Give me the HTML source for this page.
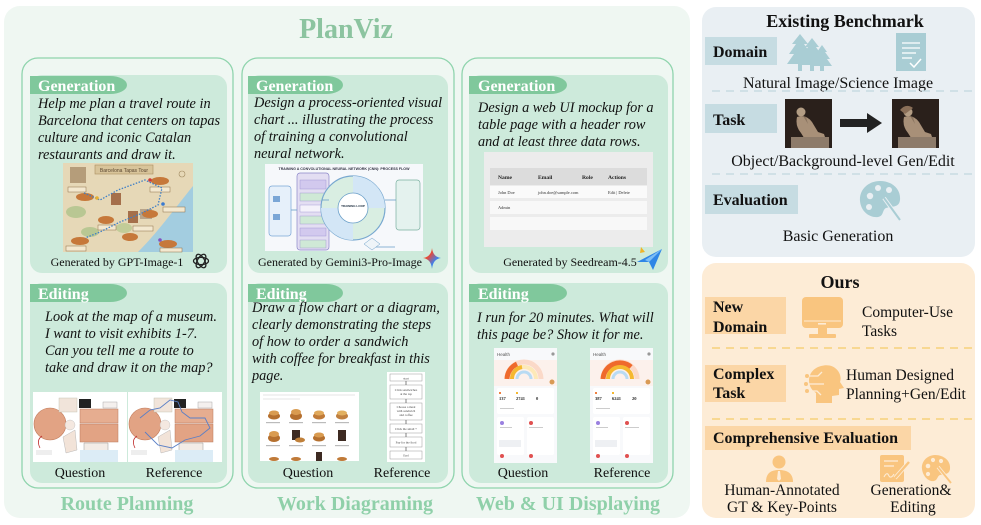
<!DOCTYPE html>
<html><head><meta charset="utf-8">
<style>
html,body{margin:0;padding:0;background:#fff;width:981px;height:525px;overflow:hidden}
svg{display:block}
text{font-family:"Liberation Serif",serif}
.it{font-style:italic;font-size:14.3px;fill:#111}
.pill{font-weight:bold;font-size:16px;fill:#fff}
.cap{font-size:12px;fill:#111}
.qr{font-size:14px;fill:#111}
.sec{font-weight:bold;font-size:20px;fill:#8fd0a9}
.lab{font-weight:bold;font-size:16px;fill:#111}
.reg{font-size:16px;fill:#111}
.reg2{font-size:15.5px;fill:#111}
.tiny{font-family:"Liberation Sans",sans-serif}
</style></head><body>
<svg width="981" height="525" viewBox="0 0 981 525" xmlns="http://www.w3.org/2000/svg">
<defs>
<linearGradient id="gem" x1="0" y1="0" x2="1" y2="1">
<stop offset="0" stop-color="#f2b233"/><stop offset="0.35" stop-color="#e5493a"/><stop offset="0.65" stop-color="#3b82f0"/><stop offset="1" stop-color="#34a853"/>
</linearGradient>
</defs>

<!-- main panel -->
<rect x="4" y="6" width="686" height="512" rx="16" fill="#eff7f2"/>
<text x="346" y="38" text-anchor="middle" font-weight="bold" font-size="28" fill="#8cc4a0">PlanViz</text>

<!-- column outer cards -->
<rect x="22" y="58" width="211" height="430" rx="16" fill="none" stroke="#8fd4ad" stroke-width="1.3"/>
<rect x="242" y="58" width="212" height="430" rx="16" fill="none" stroke="#8fd4ad" stroke-width="1.3"/>
<rect x="462" y="58" width="211" height="430" rx="16" fill="none" stroke="#8fd4ad" stroke-width="1.3"/>

<!-- inner cards -->
<rect x="30" y="75" width="197" height="198" rx="12" fill="#cdeadb"/>
<rect x="30" y="283" width="197" height="200" rx="12" fill="#cdeadb"/>
<rect x="248" y="75" width="200" height="198" rx="12" fill="#cdeadb"/>
<rect x="248" y="283" width="200" height="200" rx="12" fill="#cdeadb"/>
<rect x="469" y="75" width="199" height="198" rx="12" fill="#cdeadb"/>
<rect x="469" y="283" width="199" height="200" rx="12" fill="#cdeadb"/>

<!-- pills -->
<g fill="#80c89c">
<path d="M30 76 H110 A17 9 0 0 1 110 94 H30 Z"/>
<path d="M30 284 H110 A17 9 0 0 1 110 302 H30 Z"/>
<path d="M248 76 H326 A17 9 0 0 1 326 94 H248 Z"/>
<path d="M248 284 H326 A17 9 0 0 1 326 302 H248 Z"/>
<path d="M469 76 H550 A17 9 0 0 1 550 94 H469 Z"/>
<path d="M469 284 H550 A17 9 0 0 1 550 302 H469 Z"/>
</g>
<text class="pill" x="38" y="91">Generation</text>
<text class="pill" x="38" y="299">Editing</text>
<text class="pill" x="256" y="91">Generation</text>
<text class="pill" x="256" y="299">Editing</text>
<text class="pill" x="478" y="91">Generation</text>
<text class="pill" x="478" y="299">Editing</text>

<!-- COLUMN 1 text -->
<text class="it" x="38" y="108">Help me plan a travel route in</text>
<text class="it" x="38" y="125">Barcelona that centers on tapas</text>
<text class="it" x="38" y="142">culture and iconic Catalan</text>
<text class="it" x="38" y="159">restaurants and draw it.</text>

<!-- map image -->
<g>
<rect x="63" y="163" width="130" height="89" fill="#e6d8b7"/>
<path d="M138 252 C158 232 172 212 193 186 L193 252 Z" fill="#a3cde0"/>
<ellipse cx="76" cy="212" rx="10" ry="6" fill="#b9c793"/>
<ellipse cx="90" cy="232" rx="9" ry="5" fill="#b9c793"/>
<ellipse cx="124" cy="228" rx="8" ry="5" fill="#c2cc98"/>
<rect x="70" y="167" width="16" height="16" fill="#b59d7a"/>
<rect x="111" y="193" width="10" height="12" fill="#a56f4b"/>
<rect x="128" y="211" width="10" height="12" fill="#a56f4b"/>
<rect x="140" y="209" width="12" height="10" fill="#b8a48a"/>
<rect x="95" y="165" width="58" height="9" fill="#d8c49a" stroke="#a98e62" stroke-width="0.6"/>
<text class="tiny" x="124" y="172" text-anchor="middle" font-size="5" fill="#5a4630">Barcelona Tapas Tour</text>
<g fill="#c6783a">
<ellipse cx="85" cy="197" rx="9" ry="4"/><ellipse cx="160" cy="181" rx="9" ry="4"/>
<ellipse cx="106" cy="220" rx="8" ry="4"/><ellipse cx="150" cy="214" rx="8" ry="4"/>
<ellipse cx="130" cy="237" rx="8" ry="4"/><ellipse cx="80" cy="241" rx="9" ry="4"/>
<ellipse cx="168" cy="244" rx="9" ry="4"/>
</g>
<g fill="#f3e8cf" stroke="#8c6e48" stroke-width="0.5">
<rect x="68" y="187" width="18" height="5"/><rect x="150" y="187" width="20" height="5"/>
<rect x="98" y="225" width="18" height="5"/><rect x="133" y="226" width="20" height="5"/>
<rect x="66" y="246" width="20" height="5"/><rect x="160" y="248" width="22" height="4"/>
<rect x="163" y="207" width="22" height="5"/>
</g>
<polyline points="84,193 100,200 118,190 145,180 162,188 158,205 140,214 120,222 100,232 85,238" fill="none" stroke="#3f7fc6" stroke-width="1.3" stroke-dasharray="1.5 1.5"/>
<circle cx="182" cy="174" r="3" fill="none" stroke="#a08a60" stroke-width="0.6"/>
<circle cx="97" cy="198" r="1.8" fill="#e8b030"/><circle cx="150" cy="180" r="1.8" fill="#d03a3a"/>
<circle cx="163" cy="204" r="1.8" fill="#3a7ad0"/><circle cx="160" cy="240" r="1.8" fill="#8050c0"/>
</g>
<text class="cap" x="117" y="266" text-anchor="middle">Generated by GPT-Image-1</text>
<g fill="none" stroke="#222" stroke-width="1.3">
<ellipse cx="201" cy="261" rx="7.5" ry="3.6"/>
<ellipse cx="201" cy="261" rx="7.5" ry="3.6" transform="rotate(60 201 261)"/>
<ellipse cx="201" cy="261" rx="7.5" ry="3.6" transform="rotate(120 201 261)"/>
</g>

<text class="it" x="45" y="321">Look at the map of a museum.</text>
<text class="it" x="45" y="338">I want to visit exhibits 1-7.</text>
<text class="it" x="45" y="355">Can you tell me a route to</text>
<text class="it" x="45" y="372">take and draw it on the map?</text>

<!-- museum maps -->
<g id="mus">
<rect x="33" y="392" width="94" height="70" fill="#fff"/>
<circle cx="50" cy="424" r="16" fill="#e2a384" stroke="#c07a5a" stroke-width="0.6"/>
<rect x="59" y="398" width="18" height="14" fill="#f1e4da" stroke="#bba" stroke-width="0.4"/>
<rect x="79" y="399" width="12" height="9" fill="#222"/>
<rect x="80" y="409" width="38" height="14" fill="#e6ad90" stroke="#b97a5e" stroke-width="0.5"/>
<rect x="80" y="424" width="38" height="18" fill="#e2a384" stroke="#b97a5e" stroke-width="0.5"/>
<rect x="103" y="402" width="14" height="6" fill="#f4f0ee" stroke="#999" stroke-width="0.4"/>
<path d="M84 443 H108 V452 L96 458 L84 452 Z" fill="#f3ece6" stroke="#999" stroke-width="0.5"/>
<path d="M63 437 L75 430 L77 450 L66 453 Z" fill="#f2e3d8" stroke="#aaa" stroke-width="0.4"/>
<circle cx="70" cy="425" r="5" fill="#f4e8e0" stroke="#bbb" stroke-width="0.4"/>
<rect x="80" y="450" width="38" height="12" fill="#dcecf6"/>
<path d="M40 448 Q36 440 42 436" fill="none" stroke="#c03030" stroke-width="0.8"/>
<rect x="36" y="450" width="16" height="5" fill="#eee"/>
</g>
<use href="#mus" transform="translate(95 0)"/>
<polyline points="140,418 150,410 160,408 170,400 178,402 182,412 190,418 205,418 210,428 200,436 185,440 172,448 158,445 145,432" fill="none" stroke="#5a7fc6" stroke-width="0.9"/>
<text class="qr" x="80" y="477" text-anchor="middle">Question</text>
<text class="qr" x="174" y="477" text-anchor="middle">Reference</text>
<text class="sec" x="127" y="510" text-anchor="middle">Route Planning</text>

<!-- COLUMN 2 -->
<text class="it" x="254" y="107">Design a process-oriented visual</text>
<text class="it" x="254" y="124">chart ... illustrating the process</text>
<text class="it" x="254" y="141">of training a convolutional</text>
<text class="it" x="254" y="158">neural network.</text>
<g>
<rect x="265" y="164" width="158" height="87" fill="#f6f8fb"/>
<text class="tiny" x="344" y="170" text-anchor="middle" font-size="3.6" font-weight="bold" fill="#334">TRAINING A CONVOLUTIONAL NEURAL NETWORK (CNN): PROCESS FLOW</text>
<rect x="269" y="186" width="22" height="50" rx="3" fill="#e6f0fa" stroke="#7aa6d6" stroke-width="0.7"/>
<rect x="273" y="196" width="7" height="6" fill="#7aa6d6"/><rect x="273" y="214" width="7" height="6" fill="#7aa6d6"/>
<rect x="297" y="173" width="32" height="77" rx="3" fill="#e3def2" stroke="#8a86c8" stroke-width="0.7"/>
<g stroke="#9a90d0" stroke-width="0.4">
<rect x="300" y="180" width="26" height="9" fill="#d2c9ee"/><rect x="300" y="193" width="26" height="8" fill="#cfe9d6"/>
<rect x="300" y="205" width="26" height="7" fill="#f4f2fa"/><rect x="300" y="216" width="26" height="8" fill="#cfe9d6"/>
<rect x="300" y="228" width="26" height="8" fill="#d2c9ee"/><rect x="300" y="240" width="26" height="8" fill="#cfe9d6"/>
</g>
<circle cx="353" cy="208" r="32" fill="#d9eee2" stroke="#78a8d0" stroke-width="1.2"/>
<path d="M353 176 A32 32 0 0 1 385 208 L368 208 A15 15 0 0 0 353 193 Z" fill="#d3e6f6"/>
<path d="M353 240 A32 32 0 0 1 321 208 L338 208 A15 15 0 0 0 353 223 Z" fill="#d3e6f6"/>
<circle cx="353" cy="208" r="15" fill="#fff" stroke="#6a9fc8" stroke-width="0.8"/>
<text class="tiny" x="353" y="207" text-anchor="middle" font-size="3" font-weight="bold" fill="#234">TRAINING LOOP</text>
<rect x="396" y="180" width="24" height="50" rx="3" fill="#e4f2ee" stroke="#7ab0a0" stroke-width="0.7"/>
<g stroke="#6a9fc8" stroke-width="0.8" fill="none">
<line x1="291" y1="210" x2="297" y2="210"/><line x1="329" y1="200" x2="322" y2="200"/>
<line x1="385" y1="200" x2="396" y2="200"/><polyline points="370,240 372,247 395,247"/>
</g>
<path d="M372 238 L380 244 L372 250 L364 244 Z" fill="#eef4f8" stroke="#6a9fc8" stroke-width="0.5"/>
</g>
<text class="cap" x="340" y="266" text-anchor="middle">Generated by Gemini3-Pro-Image</text>
<path d="M432 248 Q433 257 441 258 Q433 259 432 269 Q431 259 423 258 Q431 257 432 248 Z" fill="url(#gem)"/>

<text class="it" x="252" y="312">Draw a flow chart or a diagram,</text>
<text class="it" x="252" y="329">clearly demonstrating the steps</text>
<text class="it" x="252" y="346">of how to order a sandwich</text>
<text class="it" x="252" y="363">with coffee for breakfast in this</text>
<text class="it" x="252" y="380">page.</text>
<!-- food grid -->
<g>
<rect x="260" y="392" width="99" height="69" fill="#fff"/>
<g stroke="#ccc" stroke-width="0.6"><line x1="263" y1="395" x2="355" y2="395"/><line x1="263" y1="399" x2="300" y2="399"/></g>
<g>
<ellipse cx="274" cy="416" rx="6" ry="3.5" fill="#b5702f"/><ellipse cx="274" cy="413" rx="5" ry="2.5" fill="#d99b50"/>
<ellipse cx="296" cy="416" rx="6" ry="4" fill="#b5702f"/><ellipse cx="296" cy="412" rx="5" ry="3" fill="#d99b50"/>
<ellipse cx="319" cy="416" rx="6" ry="3.5" fill="#c07a38"/><ellipse cx="319" cy="413" rx="5" ry="2.5" fill="#e0a85a"/>
<ellipse cx="342" cy="416" rx="6" ry="3.5" fill="#c08040"/><ellipse cx="342" cy="413" rx="5" ry="2.5" fill="#e2b060"/>
<ellipse cx="274" cy="438" rx="6" ry="4" fill="#b5702f"/><ellipse cx="274" cy="434" rx="5" ry="3" fill="#d99b50"/>
<rect x="292" y="430" width="8" height="10" fill="#3d2a22"/><ellipse cx="300" cy="440" rx="5" ry="2.5" fill="#c0803a"/>
<ellipse cx="319" cy="438" rx="6" ry="3.5" fill="#b5702f"/><ellipse cx="319" cy="435" rx="5" ry="2.5" fill="#d99b50"/>
<rect x="338" y="430" width="8" height="11" fill="#3d2a22"/>
<ellipse cx="274" cy="459" rx="5" ry="2" fill="#c07a38"/><ellipse cx="296" cy="459" rx="5" ry="2" fill="#c07a38"/>
<rect x="316" y="452" width="6" height="9" fill="#3d2a22"/><ellipse cx="342" cy="459" rx="5" ry="2" fill="#c07a38"/>
</g>
<g fill="#bbb"><rect x="266" y="422" width="14" height="1.2"/><rect x="289" y="422" width="14" height="1.2"/><rect x="312" y="422" width="14" height="1.2"/><rect x="335" y="422" width="14" height="1.2"/>
<rect x="266" y="445" width="14" height="1.2"/><rect x="289" y="445" width="14" height="1.2"/><rect x="312" y="445" width="14" height="1.2"/><rect x="335" y="445" width="14" height="1.2"/></g>
</g>
<!-- flowchart -->
<g>
<rect x="387" y="372" width="38" height="90" fill="#fff"/>
<g fill="#fff" stroke="#9a9a9a" stroke-width="0.5">
<rect x="390" y="374" width="32" height="7"/><rect x="390" y="385" width="32" height="14"/>
<rect x="390" y="403" width="32" height="17"/><rect x="390" y="424" width="32" height="9"/>
<rect x="390" y="437" width="32" height="10"/><rect x="390" y="451" width="32" height="8"/>
</g>
<g stroke="#333" stroke-width="0.6"><line x1="406" y1="381" x2="406" y2="385"/><line x1="406" y1="399" x2="406" y2="403"/><line x1="406" y1="420" x2="406" y2="424"/><line x1="406" y1="433" x2="406" y2="437"/><line x1="406" y1="447" x2="406" y2="451"/></g>
<g class="tiny" font-size="3.2" fill="#444" text-anchor="middle">
<text x="406" y="379.5">start</text>
<text x="406" y="391">Click sandwiches</text><text x="406" y="395">at the top</text>
<text x="406" y="408">Choose a meal</text><text x="406" y="412">with sandwich</text><text x="406" y="416">and coffee</text>
<text x="406" y="430">Click the small +</text>
<text x="406" y="443.5">Pay for the food</text>
<text x="406" y="456.5">End</text>
</g>
</g>
<text class="qr" x="308" y="477" text-anchor="middle">Question</text>
<text class="qr" x="402" y="477" text-anchor="middle">Reference</text>
<text class="sec" x="355" y="510" text-anchor="middle">Work Diagraming</text>

<!-- COLUMN 3 -->
<text class="it" x="478" y="112">Design a web UI mockup for a</text>
<text class="it" x="478" y="129">table page with a header row</text>
<text class="it" x="478" y="146">and at least three data rows.</text>
<g>
<rect x="484" y="152" width="169" height="95" fill="#ececec"/>
<rect x="490" y="168" width="157" height="17" fill="#dcdcdc"/>
<rect x="490" y="186" width="157" height="12" fill="#fafafa"/>
<rect x="490" y="201" width="157" height="13" fill="#f8f8f8"/>
<rect x="490" y="217" width="157" height="13" fill="#f8f8f8"/>
<g class="tiny" font-size="5.6" font-weight="bold" fill="#222">
<text x="498" y="179">Name</text><text x="538" y="179">Email</text><text x="582" y="179">Role</text><text x="608" y="179">Actions</text>
</g>
<g class="tiny" font-size="4.4" fill="#333">
<text x="498" y="194">John Doe</text><text x="538" y="194">john.doe@sample.com</text><text x="608" y="194">Edit | Delete</text>
<text x="498" y="209">Admin</text>
</g>
</g>
<text class="cap" x="570" y="266" text-anchor="middle">Generated by Seedream-4.5</text>
<g>
<path d="M637 262 L662 249 L653 270 L649 262 Z" fill="#2f86e6"/>
<path d="M649 262 L662 249 L645 260 Z" fill="#7dbef5"/>
<path d="M641 247 L645 252 L640 253 Z" fill="#f0b428"/>
</g>

<text class="it" x="477" y="322">I run for 20 minutes. What will</text>
<text class="it" x="477" y="339">this page be? Show it for me.</text>
<!-- health screens -->
<g id="hq">
<rect x="494" y="348" width="63" height="115" fill="#f8f9fb"/>
<rect x="494" y="360" width="63" height="26" fill="#fcf1ec"/>
<text class="tiny" x="497" y="356" font-size="4.5" fill="#555">Health</text>
<circle cx="553" cy="354" r="1.6" fill="#999"/>
<rect x="497" y="388" width="57" height="26" rx="2" fill="#fff"/>
<rect x="497" y="417" width="27" height="38" rx="2" fill="#fff"/>
<rect x="527" y="417" width="27" height="38" rx="2" fill="#fff"/>
<rect x="499" y="440" width="22" height="7" fill="#eef0f3"/>
<circle cx="502" cy="423" r="2" fill="#9a80e0"/><circle cx="531" cy="423" r="2" fill="#e05050"/>
<circle cx="502" cy="456" r="2" fill="#e05050"/><circle cx="531" cy="456" r="2" fill="#e05050"/>
<circle cx="552" cy="382" r="2.5" fill="#d99a55"/>
<g fill="#ccc"><rect x="500" y="423" width="0" height="0"/><rect x="500" y="427" width="12" height="1"/><rect x="529" y="427" width="14" height="1"/><rect x="500" y="408" width="14" height="1"/></g>
</g>
<use href="#hq" transform="translate(96 0)"/>
<!-- arcs question -->
<g fill="none">
<path d="M507 379 A17 17 0 0 1 541 379" stroke="#fbd9c8" stroke-width="5"/>
<path d="M507 379 A17 17 0 0 1 517 364" stroke="#ef6a2c" stroke-width="5"/>
<path d="M512 379 A12 12 0 0 1 536 379" stroke="#fde9b8" stroke-width="4"/>
<path d="M512 379 A12 12 0 0 1 522 367" stroke="#f5b830" stroke-width="4"/>
<path d="M517 379 A7 7 0 0 1 531 379" stroke="#b9dbf3" stroke-width="3"/>
</g>
<g fill="none">
<path d="M603 379 A17 17 0 0 1 637 379" stroke="#fbd9c8" stroke-width="5"/>
<path d="M603 379 A17 17 0 0 1 631 367" stroke="#ef6a2c" stroke-width="5"/>
<path d="M608 379 A12 12 0 0 1 632 379" stroke="#f5b830" stroke-width="4"/>
<path d="M613 379 A7 7 0 0 1 627 379" stroke="#b9dbf3" stroke-width="3"/>
</g>
<g class="tiny" font-size="4.5" font-weight="bold" fill="#222">
<text x="499" y="400">137</text><text x="516" y="400">2741</text><text x="536" y="400">0</text>
<text x="595" y="400">387</text><text x="612" y="400">6241</text><text x="632" y="400">20</text>
</g>
<g fill="#f08040"><rect x="499" y="392" width="2" height="2"/><rect x="595" y="392" width="2" height="2"/></g>
<g fill="#f5b830"><rect x="516" y="392" width="2" height="2"/><rect x="612" y="392" width="2" height="2"/></g>
<text class="qr" x="523" y="477" text-anchor="middle">Question</text>
<text class="qr" x="622" y="477" text-anchor="middle">Reference</text>
<text class="sec" x="568" y="510" text-anchor="middle">Web &amp; UI Displaying</text>

<!-- ===== EXISTING BENCHMARK ===== -->
<rect x="702" y="7" width="273" height="250" rx="14" fill="#e9eff3"/>
<text x="845" y="27" text-anchor="middle" font-weight="bold" font-size="18" fill="#111">Existing Benchmark</text>
<rect x="705" y="37" width="72" height="28" fill="#c6dce2"/>
<text class="lab" x="713" y="57">Domain</text>
<g fill="#a9cdd4">
<polygon points="800,34 792,44 796,44 789,54 794,54 787,64 813,64 806,54 811,54 804,44 808,44"/>
<rect x="798" y="64" width="4" height="7"/>
<polygon points="812,38 805,47 808,47 802,56 806,56 800,65 824,65 818,56 822,56 816,47 819,47"/>
<rect x="810" y="65" width="4" height="6"/>
<polygon points="822,45 817,52 819,52 814,59 817,59 812,66 832,66 827,59 830,59 825,52 827,52"/>
<rect x="820" y="66" width="4" height="5"/>
<rect x="896" y="33" width="30" height="38"/>
</g>
<g stroke="#fff" stroke-width="1.3"><line x1="902" y1="43" x2="920" y2="43"/><line x1="902" y1="48" x2="920" y2="48"/><line x1="902" y1="53" x2="916" y2="53"/><line x1="902" y1="58" x2="912" y2="58"/></g>
<polyline points="910,63 914,67 921,59" fill="none" stroke="#fff" stroke-width="1.5"/>
<text class="reg" x="838" y="88" text-anchor="middle">Natural Image/Science Image</text>
<line x1="712" y1="91" x2="972" y2="91" stroke="#c8dce2" stroke-width="1.5" stroke-dasharray="8 6"/>

<rect x="705" y="104" width="72" height="29" fill="#c6dce2"/>
<text class="lab" x="713" y="125">Task</text>
<g id="thinker">
<rect x="785" y="99" width="47" height="49" fill="#2a201b"/>
<circle cx="801" cy="112" r="4.5" fill="#b39d84"/>
<path d="M797 117 Q806 114 812 122 L818 132 L824 134 L826 140 L806 141 L801 133 Q795 126 797 117 Z" fill="#a89078"/>
<path d="M803 116 L808 124 L806 117 Z" fill="#8a7560"/>
<rect x="791" y="137" width="38" height="11" fill="#8d7b6a"/>
</g>
<use href="#thinker" transform="translate(107 0)"/>
<path d="M900 110 Q906 103 913 108 L905 114 Z" fill="#8a6f58"/>
<rect x="840" y="119" width="28" height="8" fill="#222"/>
<polygon points="867,113 882,123 867,133" fill="#222"/>
<text class="reg" x="843" y="166" text-anchor="middle">Object/Background-level Gen/Edit</text>
<line x1="712" y1="174" x2="972" y2="174" stroke="#c8dce2" stroke-width="1.5" stroke-dasharray="8 6"/>

<rect x="705" y="185" width="93" height="29" fill="#c6dce2"/>
<text class="lab" x="713" y="205">Evaluation</text>
<g>
<path d="M880 181 C868 181 859 190 860 201 C861 212 870 218 878 217 C884 216 882 210 886 208 C892 206 899 208 900 200 C901 189 892 181 880 181 Z" fill="#a9cdd4"/>
<g fill="#e9eff3"><circle cx="870" cy="196" r="3.2"/><circle cx="878" cy="188" r="3"/><circle cx="889" cy="190" r="3"/><circle cx="869" cy="207" r="3"/></g>
<line x1="884" y1="198" x2="900" y2="220" stroke="#e9eff3" stroke-width="4"/>
<line x1="884" y1="198" x2="900" y2="220" stroke="#a9cdd4" stroke-width="2"/>
</g>
<text class="reg" x="838" y="241" text-anchor="middle">Basic Generation</text>

<!-- ===== OURS ===== -->
<rect x="702" y="263" width="273" height="255" rx="14" fill="#fdecd6"/>
<text x="840" y="288" text-anchor="middle" font-weight="bold" font-size="18" fill="#111">Ours</text>
<rect x="705" y="297" width="81" height="37" fill="#fbd6a6"/>
<text class="lab" x="713" y="312">New</text>
<text class="lab" x="713" y="332">Domain</text>
<g fill="#f9c57f">
<rect x="802" y="297" width="41" height="31" rx="4"/>
<rect x="818" y="328" width="9" height="6"/>
<rect x="809" y="334" width="27" height="4" rx="1"/>
</g>
<line x1="804" y1="321" x2="841" y2="321" stroke="#fdecd6" stroke-width="1"/>
<rect x="818" y="323" width="8" height="1.6" fill="#fdecd6"/>
<text class="reg2" x="862" y="317">Computer-Use</text>
<text class="reg2" x="862" y="336">Tasks</text>
<line x1="712" y1="348" x2="972" y2="348" stroke="#f6d27a" stroke-width="1.6" stroke-dasharray="8 6"/>

<rect x="705" y="365" width="81" height="37" fill="#fbd6a6"/>
<text class="lab" x="713" y="379">Complex</text>
<text class="lab" x="713" y="398">Task</text>
<path d="M816 403 L816 393 C806 387 806 370 821 366 C835 362 843 374 840 382 L844 388 L839 389 L839 395 L832 396 L832 403 Z" fill="#f9c57f"/>
<g stroke="#fdecd6" stroke-width="1.3" fill="none">
<polyline points="808,376 818,376 822,372"/><polyline points="808,384 824,384"/><polyline points="808,391 817,391 821,395"/>
</g>
<g fill="#f9c57f"><circle cx="807" cy="376" r="2"/><circle cx="806" cy="384" r="2"/><circle cx="807" cy="391" r="2"/></g>
<text class="reg2" x="846" y="380">Human Designed</text>
<text class="reg2" x="846" y="399">Planning+Gen/Edit</text>
<line x1="712" y1="419" x2="972" y2="419" stroke="#f6d27a" stroke-width="1.6" stroke-dasharray="8 6"/>

<rect x="705" y="426" width="206" height="24" fill="#fbd6a6"/>
<text class="lab" x="713" y="443">Comprehensive Evaluation</text>
<g fill="#f9c57f">
<circle cx="779" cy="462" r="6.5"/>
<path d="M766 482 C766 473 771 470 779 470 C787 470 793 473 793 482 Z"/>
</g>
<path d="M778 471 L780 471 L781 479 L779 481 L777 479 Z" fill="#fdecd6"/>
<g>
<rect x="880" y="455" width="24" height="27" rx="2" fill="#f9c57f"/>
<g stroke="#fdecd6" stroke-width="1.3"><line x1="884" y1="461" x2="898" y2="461"/><line x1="884" y1="466" x2="894" y2="466"/></g>
<path d="M884 477 Q887 471 889 476 Q891 479 894 474" fill="none" stroke="#fdecd6" stroke-width="1.1"/>
<line x1="895" y1="478" x2="909" y2="462" stroke="#fdecd6" stroke-width="4"/>
<line x1="895" y1="478" x2="909" y2="462" stroke="#f9c57f" stroke-width="2.4"/>
</g>
<g>
<path d="M935 455 C927 455 921 462 922 469 C923 477 929 482 934 481 C938 480 937 476 940 475 C944 474 949 475 950 469 C951 461 944 455 935 455 Z" fill="#f9c57f"/>
<g fill="#fdecd6"><circle cx="928" cy="466" r="2.3"/><circle cx="933" cy="460" r="2.1"/><circle cx="941" cy="461" r="2.1"/><circle cx="928" cy="474" r="2.1"/></g>
<line x1="938" y1="467" x2="951" y2="483" stroke="#fdecd6" stroke-width="3.5"/>
<line x1="938" y1="467" x2="951" y2="483" stroke="#f9c57f" stroke-width="1.8"/>
</g>
<text class="reg2" x="782" y="495" text-anchor="middle">Human-Annotated</text>
<text class="reg2" x="782" y="512" text-anchor="middle">GT &amp; Key-Points</text>
<text class="reg2" x="911" y="495" text-anchor="middle">Generation&amp;</text>
<text class="reg2" x="913" y="512" text-anchor="middle">Editing</text>
</svg>
</body></html>
